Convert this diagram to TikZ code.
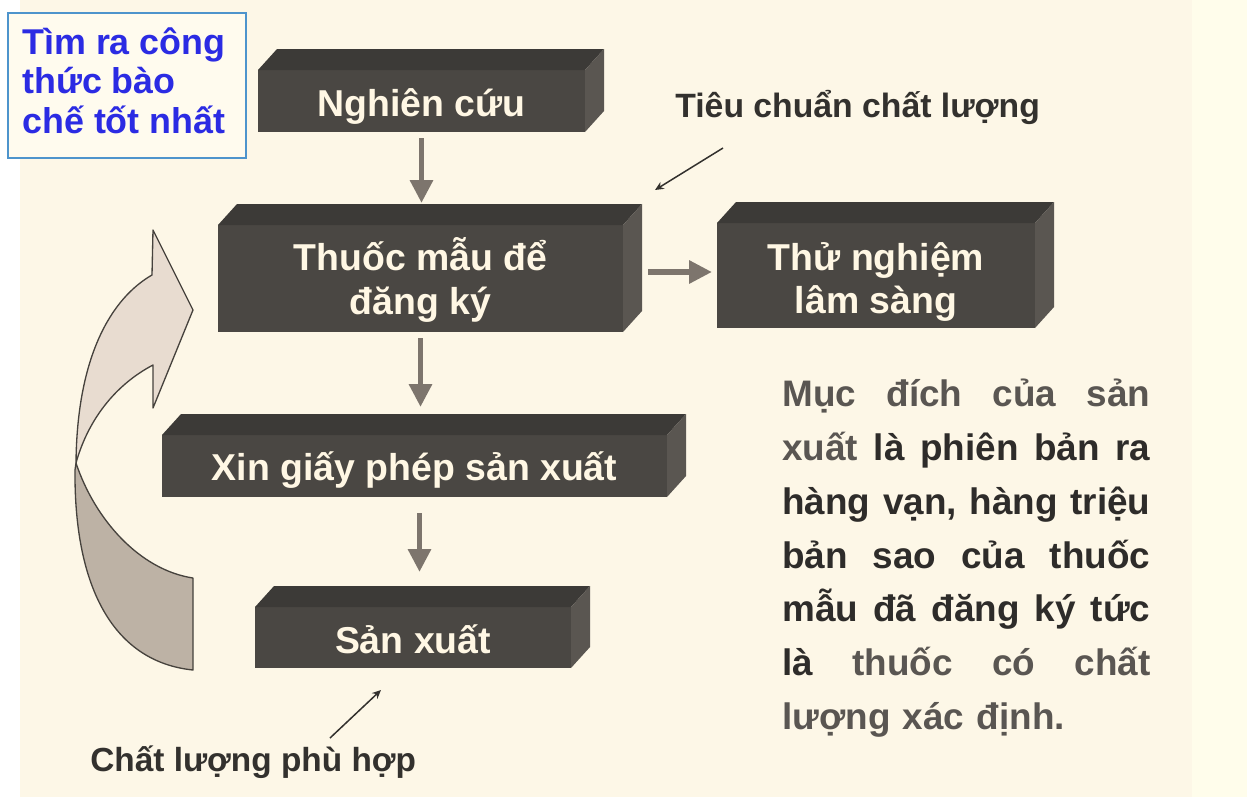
\documentclass[tikz,border=0pt]{standalone}
\usepackage{fontspec}
\setmainfont{Liberation Sans}
\usetikzlibrary{arrows.meta,calc,fit}
\newlength\pxl \setlength\pxl{0.02cm}
\definecolor{bgcream}{HTML}{FDF7E7}
\definecolor{bgpale}{HTML}{FFFDEB}
\definecolor{goalfill}{HTML}{FFFBEE}
\definecolor{frontc}{HTML}{4A4743}
\definecolor{topc}{HTML}{3C3A37}
\definecolor{sidec}{HTML}{5A5651}
\definecolor{boxtext}{HTML}{FFF7E4}
\definecolor{flowc}{HTML}{7D756D}
\definecolor{notec}{HTML}{33312E}
\definecolor{paradark}{HTML}{2E2C2A}
\definecolor{paralight}{HTML}{5A5652}
\definecolor{goalblue}{HTML}{2B2BE3}
\definecolor{goalframe}{HTML}{4E94CC}
\definecolor{curvelight}{HTML}{E8DCD0}
\definecolor{curvedark}{HTML}{BDB2A5}
\definecolor{curveline}{HTML}{46423D}
\tikzset{
  blockfront/.style={fill=frontc, inner sep=0pt, outer sep=0pt},
  blocktext/.style={inner sep=0pt, text=boxtext, align=center,
    font=\bfseries\fontsize{21.3pt}{25pt}\selectfont},
  flow/.style={draw=flowc, line width=3.4pt, -{Triangle[length=13pt,width=12.5pt]}},
  note/.style={draw=notec, line width=0.85pt, -{Stealth[length=5pt,width=4.5pt]}},
  notetext/.style={inner sep=0pt, text=notec, anchor=base west},
  curvepart/.style={draw=curveline, line width=0.75pt, line join=round},
}
% name, x1, y1, x2, y2, text, vertical text offset (px)
\newcommand{\blk}[7]{%
  \node[blockfront, fit={(#2,#3) (#4,#5)}] (#1) {};
  \fill[topc] (#1.north west) -- ++(19,-21) -- ($(#1.north east)+(19,-21)$) -- (#1.north east) -- cycle;
  \fill[sidec] (#1.north east) -- ++(19,-21) -- ($(#1.south east)+(19,-21)$) -- (#1.south east) -- cycle;
  \coordinate (#1-back) at ($(#1.north)+(0,-21)$);
  \node[blocktext] (#1-text) at ($(#1.center)+(0,#7)$) {#6};
}
\newcommand{\jline}[1]{\hbox to 368\pxl{#1}}
\begin{document}
\begin{tikzpicture}[x=0.02cm, y=-0.02cm]
\useasboundingbox (0,0) rectangle (1253,798);
\fill[white] (0,0) rectangle (1253,798);
\fill[bgcream] (20,0) rectangle (1192,797);
\fill[bgpale] (1192,0) rectangle (1247,797);

% goal box
\node[draw=goalframe, line width=0.9pt, fill=goalfill, inner sep=0pt, fit={(8,13) (246,158)}] (goalbox) {};
\node[anchor=north west, align=left, inner sep=0pt, text=goalblue,
  font=\bfseries\fontsize{20.4pt}{22.7pt}\selectfont] (goal) at (22,27) {Tìm ra công\\thức bào\\chế tốt nhất};

% curved feedback arrow
\filldraw[curvepart, fill=curvedark] (76,463) .. controls (95,520) and (140,570) .. (193,578)
  -- (193,670) .. controls (115,662) and (74,590) .. (75,470) -- cycle;
\filldraw[curvepart, fill=curvelight] (152,275) .. controls (112,298) and (77,355) .. (76,463)
  .. controls (88,420) and (115,385) .. (153,365) -- (153,408) -- (193,310) -- (153,230) -- cycle;

% blocks
\blk{n1}{258}{70}{585}{132}{Nghiên cứu}{5}
\blk{n2}{218}{225}{623}{332}{Thuốc mẫu để\\đăng ký}{1.5}
\blk{n3}{717}{223}{1035}{328}{Thử nghiệm\\lâm sàng}{6.5}
\blk{n4}{162}{435}{667}{497}{Xin giấy phép sản xuất}{4}
\blk{n5}{255}{607}{571}{668}{Sản xuất}{2}

% flow arrows
\draw[flow, shorten <=6\pxl, shorten >=1\pxl] (n1.south) -- (n1.south |- n2-back);
\path (n2.east) ++(25,-6.5) coordinate (a2s);
\draw[flow, shorten >=5\pxl] (a2s) -- (a2s -| n3.west);
\draw[flow, shorten <=6\pxl, shorten >=7\pxl] (n2.south) -- (n2.south |- n4-back);
\coordinate (a4s) at ($(n4.south)+(5,0)$);
\draw[flow, shorten <=16\pxl, shorten >=14\pxl] (a4s) -- (a4s |- n5-back);

% annotations
\node[notetext, font=\bfseries\fontsize{19.2pt}{21pt}\selectfont] (std) at (675,117) {Tiêu chuẩn chất lượng};
\coordinate (q1s) at (723,148);
\coordinate (q1e) at (655,190);
\draw[note] (q1s) -- (q1e);
\node[notetext, font=\bfseries\fontsize{19pt}{21pt}\selectfont] (fit) at (90,771) {Chất lượng phù hợp};
\coordinate (q2s) at (330,738);
\coordinate (q2e) at (381,690);
\draw[note] (q2s) -- (q2e);

% paragraph
\node[anchor=north west, inner sep=0pt, text width=368\pxl,
  font=\bfseries\fontsize{21pt}{30.6pt}\selectfont] (para) at (782,379) {%
\jline{\color{paralight}Mục\hfill đích\hfill của\hfill sản}
\jline{\color{paralight}xuất\hfill \color{paradark}là\hfill phiên\hfill bản\hfill ra}
\jline{\color{paradark}hàng\hfill vạn,\hfill hàng\hfill triệu}
\jline{\color{paradark}bản\hfill sao\hfill của\hfill thuốc}
\jline{\color{paradark}mẫu\hfill đã\hfill đăng\hfill ký\hfill tức}
\jline{\color{paradark}là\hfill \color{paralight}thuốc\hfill có\hfill chất}
\hbox{\color{paralight}lượng xác định.}};
\end{tikzpicture}
\end{document}
